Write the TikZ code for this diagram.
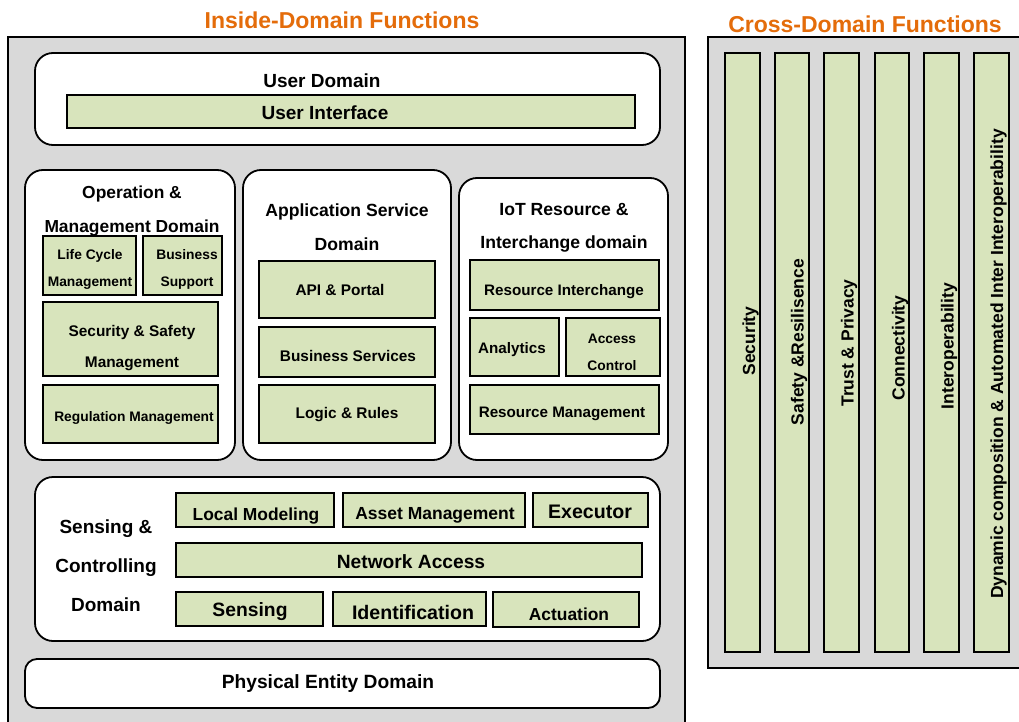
\documentclass[tikz,border=0pt]{standalone}
\usepackage{fontspec}
\setmainfont{Liberation Sans}
\definecolor{panelgray}{RGB}{217,217,217}
\definecolor{fngreen}{RGB}{216,228,188}
\definecolor{ttlorange}{RGB}{228,108,10}
\newcommand{\fbx}[6]{%
  \node[#6, minimum width={(#4)-(#2)}, minimum height={(#5)-(#3)}] (#1) at ({((#2)+(#4))/2},{((#3)+(#5))/2}) {};}
\newcommand{\fs}[2]{\bfseries\fontsize{#1}{#2}\selectfont}
\tikzset{
  panel/.style={draw=black, line width=2pt, fill=panelgray},
  domainbox/.style={draw=black, line width=1.8pt, fill=white, rounded corners=18pt, inner sep=0pt},
  fnbox/.style={draw=black, line width=2.2pt, fill=fngreen, inner sep=0pt},
  txt/.style={inner sep=0pt, align=center},
  vtext/.style={rotate=90, font=\fs{17.5}{20}, inner sep=0pt},
  ttl/.style={font=\fs{23}{26}, text=ttlorange, inner sep=0pt},
}
\begin{document}
\begin{tikzpicture}[x=1pt,y=-1pt]
\clip (0,0) rectangle (1019,722);
\fill[white] (0,0) rectangle (1019,722);
% titles
\node[ttl] (t1) at (342,20) {Inside-Domain Functions};
\node[ttl] (t2) at (865,24) {Cross-Domain Functions};
% panels
\draw[panel] (8,37) rectangle (685,740);
\draw[panel] (708,37) rectangle (1035,668);
% user domain
\fbx{ud}{35}{53}{660}{145}{domainbox}
\node[txt, font=\fs{19}{22}] (udl) at (322,81) {User Domain};
\fbx{ui}{67}{95}{635}{128}{fnbox}
\node[txt, font=\fs{19}{22}] (uit) at (325,113) {User Interface};
% operation & management
\fbx{om}{25}{170}{235}{460}{domainbox}
\node[txt, font=\fs{17.4}{34}] (oml) at (132,211) {Operation \&\\Management Domain};
\fbx{lc}{43}{236}{136}{295}{fnbox}
\node[txt, font=\fs{13.8}{27}] (lct) at (90,269.5) {Life Cycle\\Management};
\fbx{bs}{143}{236}{222}{295}{fnbox}
\node[txt, font=\fs{13.8}{27}] (bst) at (187,269.5) {Business\\Support};
\fbx{ss}{43}{302}{218}{376}{fnbox}
\node[txt, font=\fs{15.4}{31}] (sst) at (132,348) {Security \& Safety\\Management};
\fbx{rm}{43}{385}{218}{443}{fnbox}
\node[txt, font=\fs{13.8}{16}] (rmt) at (134,418) {Regulation Management};
% application service
\fbx{as}{243}{170}{451}{460}{domainbox}
\node[txt, font=\fs{17.6}{34}] (asl) at (347,227) {Application Service\\Domain};
\fbx{api}{259}{261}{435}{318}{fnbox}
\node[txt, font=\fs{15.4}{18}] (apit) at (340,290) {API \& Portal};
\fbx{bsv}{259}{327}{435}{377}{fnbox}
\node[txt, font=\fs{15.4}{18}] (bsvt) at (348,356) {Business Services};
\fbx{lr}{259}{385}{435}{443}{fnbox}
\node[txt, font=\fs{15.4}{18}] (lrt) at (347,415) {Logic \& Rules};
% IoT resource
\fbx{iot}{459}{178}{668}{460}{domainbox}
\node[txt, font=\fs{17.6}{33}] (iotl) at (564,228) {IoT Resource \&\\Interchange domain};
\fbx{ri}{470}{260}{659}{310}{fnbox}
\node[txt, font=\fs{15.2}{18}] (rit) at (564,292) {Resource Interchange};
\fbx{an}{470}{318}{559}{376}{fnbox}
\node[txt, font=\fs{15.2}{18}] (ant) at (512,350) {Analytics};
\fbx{ac}{566}{318}{660}{376}{fnbox}
\node[txt, font=\fs{13.8}{27}] (act2) at (612,352.5) {Access\\Control};
\fbx{rsm}{470}{385}{659}{434}{fnbox}
\node[txt, font=\fs{15.2}{18}] (rsmt) at (562,414) {Resource Management};
% sensing & controlling
\fbx{sc}{35}{477}{660}{641}{domainbox}
\node[txt, font=\fs{19}{39}] (scl) at (106,566) {Sensing \&\\Controlling\\Domain};
\fbx{lm}{176}{493}{334}{527}{fnbox}
\node[txt, font=\fs{17.4}{20}] (lmt) at (256,516) {Local Modeling};
\fbx{am}{343}{493}{525}{527}{fnbox}
\node[txt, font=\fs{17.5}{20}] (amt) at (435,515) {Asset Management};
\fbx{ex}{533}{493}{648}{527}{fnbox}
\node[txt, font=\fs{19.6}{22}] (ext) at (590,512) {Executor};
\fbx{na}{176}{543}{642}{577}{fnbox}
\node[txt, font=\fs{19.2}{22}] (nat) at (411,562) {Network Access};
\fbx{se}{176}{592}{323}{626}{fnbox}
\node[txt, font=\fs{19.3}{22}] (set) at (250,612) {Sensing};
\fbx{id}{333}{592}{486}{626}{fnbox}
\node[txt, font=\fs{19.6}{22}] (idt) at (413,612) {Identification};
\fbx{ac3}{493}{592}{639}{627}{fnbox}
\node[txt, font=\fs{17.4}{20}] (act) at (569,614) {Actuation};
% physical entity
\fbx{pe}{25}{659}{660}{708}{domainbox, rounded corners=12pt}
\node[txt, font=\fs{19.2}{22}] (pet) at (328,684) {Physical Entity Domain};
% cross-domain bars
\fbx{b1}{725}{53}{760}{652}{fnbox}
\fbx{b2}{775}{53}{809}{652}{fnbox}
\fbx{b3}{824}{53}{859}{652}{fnbox}
\fbx{b4}{875}{53}{909}{652}{fnbox}
\fbx{b5}{924}{53}{959}{652}{fnbox}
\fbx{b6}{974}{53}{1009}{652}{fnbox}
\node[vtext] (v1) at ([xshift=8pt]b1.center |- 0,341) {Security};
\node[vtext] (v2) at ([xshift=7pt]b2.center |- 0,342) {Safety \&Resilisence};
\node[vtext] (v3) at ([xshift=7.5pt]b3.center |- 0,343) {Trust \& Privacy};
\node[vtext] (v4) at ([xshift=8pt]b4.center |- 0,348) {Connectivity};
\node[vtext] (v5) at ([xshift=7.5pt]b5.center |- 0,346) {Interoperability};
\node[vtext] (v6) at ([xshift=7pt]b6.center |- 0,364) {Dynamic composition \& Automated Inter Interoperability};
\end{tikzpicture}
\end{document}
